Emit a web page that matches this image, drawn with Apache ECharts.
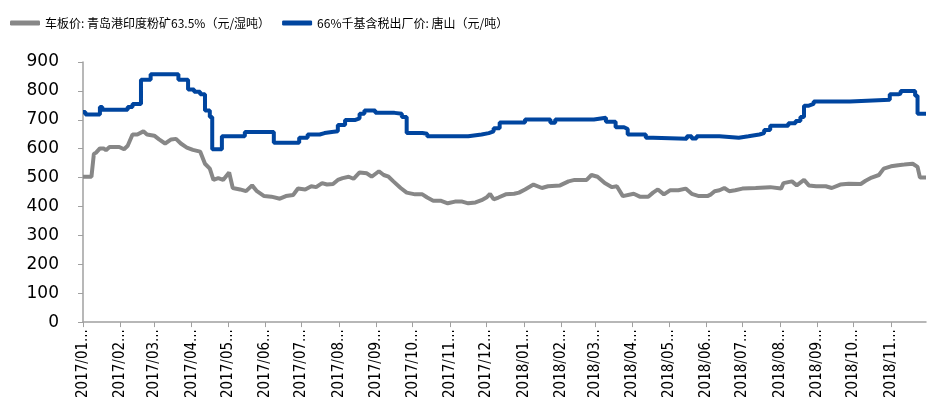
<!DOCTYPE html>
<html>
<head>
<meta charset="utf-8">
<script src="https://cdn.jsdelivr.net/npm/echarts@6/dist/echarts.min.js"></script>
<style>
html,body{margin:0;padding:0;background:#fff;}
#chart{width:929px;height:401px;}
</style>
</head>
<body>
<div id="chart"></div>
<script>
const seriesNames = ['车板价: 青岛港印度粉矿63.5%（元/湿吨）', '66%千基含税出厂价: 唐山（元/吨）'];

const oreDates = ['2017-01-01','2017-01-08','2017-01-10','2017-01-12','2017-01-15','2017-01-18','2017-01-20','2017-01-23','2017-01-31','2017-02-04','2017-02-07','2017-02-11','2017-02-15','2017-02-20','2017-02-23','2017-03-01','2017-03-05','2017-03-10','2017-03-15','2017-03-19','2017-03-23','2017-03-28','2017-04-02','2017-04-08','2017-04-12','2017-04-16','2017-04-19','2017-04-23','2017-04-27','2017-05-02','2017-05-05','2017-05-11','2017-05-16','2017-05-21','2017-05-25','2017-05-31','2017-06-06','2017-06-13','2017-06-18','2017-06-24','2017-06-28','2017-07-04','2017-07-09','2017-07-13','2017-07-18','2017-07-22','2017-07-27','2017-07-31','2017-08-04','2017-08-09','2017-08-13','2017-08-18','2017-08-24','2017-08-28','2017-09-03','2017-09-07','2017-09-11','2017-09-15','2017-09-21','2017-09-26','2017-10-03','2017-10-09','2017-10-13','2017-10-18','2017-10-24','2017-10-30','2017-11-05','2017-11-11','2017-11-16','2017-11-22','2017-11-27','2017-12-01','2017-12-04','2017-12-07','2017-12-11','2017-12-17','2017-12-24','2017-12-28','2018-01-02','2018-01-09','2018-01-16','2018-01-21','2018-01-31','2018-02-07','2018-02-12','2018-02-22','2018-02-26','2018-03-03','2018-03-09','2018-03-15','2018-03-19','2018-03-24','2018-04-02','2018-04-07','2018-04-14','2018-04-18','2018-04-22','2018-04-27','2018-05-02','2018-05-09','2018-05-15','2018-05-20','2018-05-26','2018-06-02','2018-06-05','2018-06-08','2018-06-12','2018-06-16','2018-06-20','2018-06-25','2018-07-01','2018-07-12','2018-07-24','2018-08-02','2018-08-04','2018-08-11','2018-08-15','2018-08-21','2018-08-25','2018-08-31','2018-09-08','2018-09-13','2018-09-20','2018-09-27','2018-10-07','2018-10-11','2018-10-16','2018-10-22','2018-10-26','2018-11-01','2018-11-07','2018-11-12','2018-11-19','2018-11-23','2018-11-25','2018-11-30'];
const oreValues = [503,503,582,587,601,601,595,606,606,598,610,649,649,660,649,645,632,618,632,634,618,604,596,590,548,531,492,498,492,518,464,459,453,473,453,436,434,427,436,440,462,459,470,467,481,476,478,492,498,503,496,518,515,503,522,509,503,487,464,448,442,442,431,420,420,411,417,417,411,414,422,431,444,425,431,442,444,448,459,476,464,470,473,487,492,492,509,503,481,467,470,436,444,434,434,448,459,442,456,456,462,444,436,436,442,453,456,464,453,456,462,464,467,462,481,487,473,492,473,470,470,464,476,479,478,489,500,509,531,539,543,545,548,537,500,500];

const steelDates = ['2017-01-01','2017-01-03','2017-01-15','2017-01-17','2017-02-07','2017-02-11','2017-02-18','2017-02-26','2017-03-21','2017-03-29','2017-04-03','2017-04-08','2017-04-12','2017-04-16','2017-04-18','2017-04-26','2017-05-15','2017-06-08','2017-06-29','2017-07-06','2017-07-16','2017-07-20','2017-07-26','2017-07-31','2017-08-06','2017-08-14','2017-08-18','2017-08-22','2017-08-31','2017-09-16','2017-09-22','2017-09-26','2017-10-09','2017-10-13','2017-11-16','2017-11-27','2017-12-03','2017-12-07','2017-12-12','2018-01-02','2018-01-23','2018-01-27','2018-02-28','2018-03-10','2018-03-18','2018-03-25','2018-03-28','2018-04-12','2018-04-18','2018-05-16','2018-05-20','2018-05-24','2018-06-12','2018-06-28','2018-07-06','2018-07-15','2018-07-19','2018-07-24','2018-08-08','2018-08-14','2018-08-18','2018-08-21','2018-08-25','2018-08-29','2018-09-28','2018-10-31','2018-11-07','2018-11-09','2018-11-21','2018-11-23','2018-11-30'];
const steelValues = [727,718,744,735,744,755,839,858,839,805,797,788,732,710,598,643,658,621,638,649,654,658,660,682,699,705,721,732,724,721,710,654,652,643,649,654,660,671,691,701,690,701,707,693,674,668,649,638,634,643,635,643,638,643,649,654,665,679,688,696,710,749,755,763,769,788,791,800,783,721,721];

const yMin = 0, yMax = 900, yInterval = 100;

function pairs(dates, values) { return dates.map((d, i) => [d, values[i]]); }
function pad(n) { return (n < 10 ? '0' : '') + n; }

const chart = echarts.init(document.getElementById('chart'), null, { renderer: 'canvas' });
chart.setOption({
  animation: false,
  backgroundColor: '#ffffff',
  legend: {
    left: 5, top: 12,
    itemWidth: 30, itemHeight: 5, itemGap: 12,
    icon: 'roundRect',
    textStyle: { fontFamily: '"Noto Sans CJK SC", sans-serif', fontSize: 12, color: '#000' },
    data: seriesNames
  },
  grid: { left: 83, right: 3, top: 62, bottom: 71, containLabel: false },
  xAxis: {
    type: 'time',
    min: '2017-01-01', max: '2018-11-30',
    splitNumber: 23,
    minInterval: 28 * 86400000,
    maxInterval: 31 * 86400000,
    axisLine: { lineStyle: { color: '#a0a0a0', width: 1.5 } },
    axisTick: { show: true, length: 5, lineStyle: { color: '#a0a0a0' } },
    splitLine: { show: false },
    axisLabel: {
      rotate: 90, margin: 7, color: '#000',
      fontFamily: '"Liberation Sans Narrow", "DejaVu Sans Condensed", sans-serif', fontSize: 15,
      showMaxLabel: false, hideOverlap: false,
      formatter: function (v) { const d = new Date(v); return d.getFullYear() + '/' + pad(d.getMonth() + 1) + '...'; }
    }
  },
  yAxis: {
    type: 'value', min: yMin, max: yMax, interval: yInterval,
    axisLine: { show: true, lineStyle: { color: '#a0a0a0', width: 1.5 } },
    axisTick: { show: true, length: 5, lineStyle: { color: '#a0a0a0' } },
    splitLine: { show: false },
    axisLabel: { margin: 24, color: '#000', fontFamily: '"DejaVu Sans", Verdana, sans-serif', fontSize: 17 }
  },
  series: [
    {
      name: seriesNames[0], type: 'line', showSymbol: false,
      data: pairs(oreDates, oreValues),
      lineStyle: { color: '#878787', width: 4 }, itemStyle: { color: '#878787' }
    },
    {
      name: seriesNames[1], type: 'line', showSymbol: false, step: 'end',
      data: pairs(steelDates, steelValues),
      lineStyle: { color: '#00459f', width: 4 }, itemStyle: { color: '#00459f' }
    }
  ]
});
</script>
</body>
</html>
